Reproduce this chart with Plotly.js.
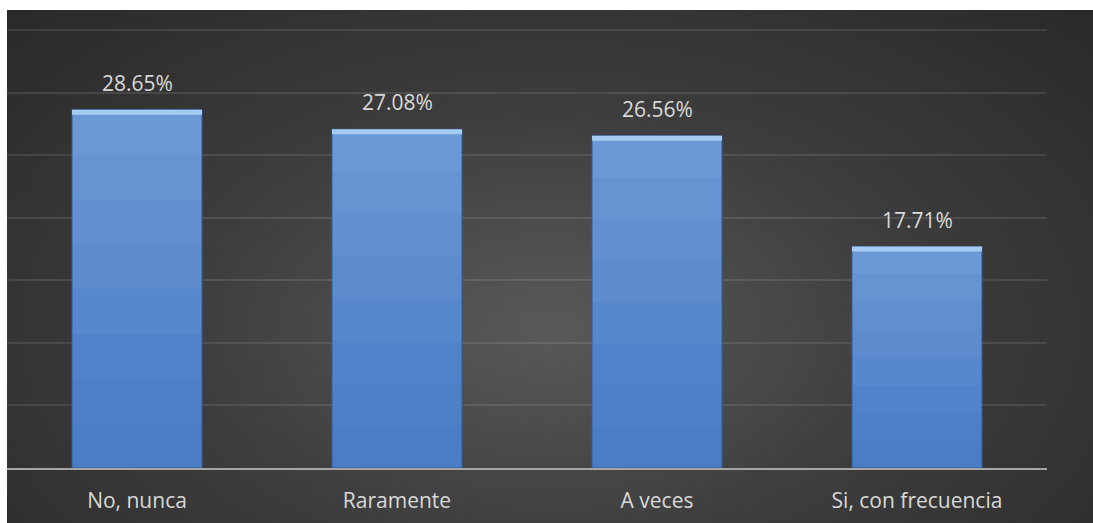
<!DOCTYPE html>
<html>
<head>
<meta charset="utf-8">
<script src="https://cdn.plot.ly/plotly-3.0.1.min.js"></script>
<style>
  html, body { margin: 0; padding: 0; background: #ffffff; width: 1093px; height: 523px; overflow: hidden; }
  #wrap { position: absolute; left: 7px; top: 10px; width: 1086px; height: 513px;
    background: radial-gradient(ellipse 75% 95% at 50% 62%, #595959 0%, #3d3d3d 45%, #262626 100%); }
  #chart { width: 1086px; height: 513px; }
</style>
</head>
<body>
<div id="wrap"><div id="chart"></div></div>
<script>
const categories = ["No, nunca", "Raramente", "A veces", "Si, con frecuencia"];
const values = [0.2865, 0.2708, 0.2656, 0.1771];
const labels = ["28.65%", "27.08%", "26.56%", "17.71%"];

// vertical shading layers (top -> bottom), drawn as overlaid bars of decreasing height
const shadeColors = ["#6b99d5", "#6694d3", "#618fd0", "#5c8bce", "#5787cc", "#5283ca", "#4e80c8", "#4a7dc6"];
const traces = shadeColors.map((col, k) => ({
  type: "bar", x: categories,
  y: values.map(v => v * (1 - k / shadeColors.length)),
  marker: { color: col, line: { width: 0 } },
  hoverinfo: "skip"
}));

// outline of each bar
traces.push({
  type: "bar", x: categories, y: values,
  marker: { color: "rgba(0,0,0,0)", line: { color: "#2f5d99", width: 1 } },
  hoverinfo: "skip"
});

// top bevel highlight
const bevel = 0.004;
traces.push({
  type: "bar", x: categories,
  y: values.map(() => bevel),
  base: values.map(v => v - bevel),
  marker: { color: "#a6cbf3", line: { width: 0 } },
  hoverinfo: "skip"
});

const annotations = categories.map((c, i) => ({
  x: c, y: values[i], xref: "x", yref: "y",
  text: labels[i], showarrow: false, yanchor: "bottom", yshift: 11,
  font: { family: "Open Sans, sans-serif", size: 21, color: "#d9d9d9" }
}));

const layout = {
  width: 1086, height: 513,
  margin: { l: 0, r: 46, t: 14, b: 55 },
  paper_bgcolor: "rgba(0,0,0,0)",
  plot_bgcolor: "rgba(0,0,0,0)",
  showlegend: false,
  barmode: "overlay",
  bargap: 0.5,
  xaxis: {
    type: "category",
    showline: true, linecolor: "#a6a6a6", linewidth: 2,
    showgrid: false, zeroline: false, ticks: "",
    ticklabelstandoff: 13,
    tickfont: { family: "Open Sans, sans-serif", size: 21, color: "#d9d9d9" }
  },
  yaxis: {
    range: [0, 0.355], dtick: 0.05, tick0: 0,
    showticklabels: false, ticks: "",
    showgrid: true, gridcolor: "rgba(255,255,255,0.1)", gridwidth: 2,
    zeroline: false, showline: false
  },
  annotations: annotations
};

Plotly.newPlot("chart", traces, layout, { staticPlot: true, displayModeBar: false });
</script>
</body>
</html>
